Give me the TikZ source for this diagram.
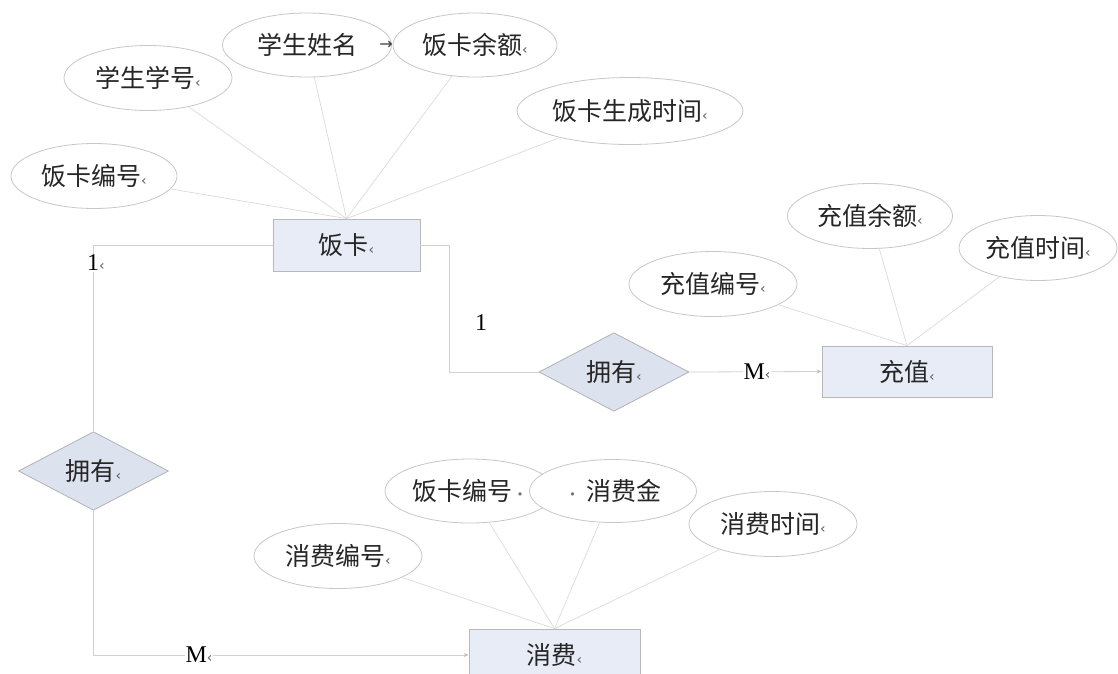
\documentclass[tikz,border=0pt]{standalone}
\usepackage{fontspec}
\setmainfont{Liberation Serif}
\newfontfamily\cjk{Noto Sans CJK SC}
\newfontfamily\dejavu{DejaVu Sans}
\usetikzlibrary{shapes.geometric,arrows.meta}
\newcommand\pmk{{\dejavu\fontsize{14}{14}\selectfont\color{black!65}‹}}
\newcommand\dotmk{{\fontsize{16}{16}\selectfont\color{black!55}·}}
\definecolor{entfill}{HTML}{E8ECF6}
\definecolor{relfill}{HTML}{DDE2EF}
\tikzset{
  attr/.style={ellipse, draw=black!22, line width=0.8pt, fill=white,
    minimum width=168pt, minimum height=65pt, inner sep=0pt,
    font=\cjk\fontsize{25}{25}\selectfont, text=black!85},
  ent/.style={rectangle, draw=black!28, fill=entfill, line width=0.8pt,
    inner sep=0pt, font=\cjk\fontsize{25}{25}\selectfont, text=black!85},
  rel/.style={diamond, draw=black!30, fill=relfill, line width=0.8pt,
    minimum width=150pt, minimum height=76pt, inner sep=0pt,
    font=\cjk\fontsize{25}{25}\selectfont, text=black!85},
  aline/.style={draw=black!14, line width=0.7pt},
  cline/.style={draw=black!18, line width=0.8pt},
  card/.style={font=\fontsize{24}{24}\selectfont, text=black, fill=white, inner sep=1pt},
  tipa/.style={-{Stealth[length=5pt,width=4pt,color=black!25]}}
}
\begin{document}
\begin{tikzpicture}[x=1pt,y=-1pt]
\useasboundingbox (0,0) rectangle (1118,673);
\fill[white] (0,0) rectangle (1118,673);

% entities
\node[ent, minimum width=147pt, minimum height=52pt] (fk) at (346.5,245) {饭卡\pmk};
\node[ent, minimum width=170pt, minimum height=51pt] (cz) at (907,371.5) {充值\pmk};
\node[ent, minimum width=171pt, minimum height=52pt] (xf) at (554.5,655) {消费\pmk};

% relationships
\node[rel] (r1) at (614,372) {拥有\pmk};
\node[rel] (r2) at (93.5,471) {拥有\pmk};

% attributes of 饭卡
\node[attr] (a1) at (148,78) {学生学号\pmk};
\node[attr, minimum width=169pt, minimum height=64pt] (a2) at (307,45) {学生姓名};
\node[attr, minimum width=164pt, minimum height=64pt] (a3) at (475,45) {饭卡余额\pmk};
\node[attr, minimum width=226pt, minimum height=67pt] (a4) at (630,111) {饭卡生成时间\pmk};
\node[attr, minimum width=166pt] (a5) at (94,176) {饭卡编号\pmk};
\node[inner sep=0pt, font=\dejavu\fontsize{16}{16}\selectfont, text=black!75] (arw) at (386,45) {→};

% attributes of 充值
\node[attr] (b1) at (713,284) {充值编号\pmk};
\node[attr, minimum width=165pt] (b2) at (870,216) {充值余额\pmk};
\node[attr, minimum width=158pt] (b3) at (1038,248) {充值时间\pmk};

% attributes of 消费
\node[attr] (c1) at (338,556) {消费编号\pmk};
\node[attr, minimum width=170pt, minimum height=64pt] (c2) at (470,491) {饭卡编号\dotmk};
\node[attr, minimum width=167pt, minimum height=63pt] (c3) at (613,491) {\dotmk\ 消费金};
\node[attr] (c4) at (773,524) {消费时间\pmk};

% attribute lines
\foreach \a in {a1,a2,a3,a4,a5} \draw[aline] (\a) -- (fk.north);
\foreach \a in {b1,b2,b3} \draw[aline] (\a) -- (cz.north);
\foreach \a in {c1,c2,c3,c4} \draw[aline] (\a) -- (xf.north);

% relationship connectors
\draw[cline] (fk.west) -| (r2.north);
\draw[cline] (fk.east) -- ++(29,0) coordinate (k1) |- (r1.west);
\draw[cline, tipa] (r1.east) -- (cz.west);
\draw[cline, tipa] (r2.south) |- (xf.west);

% cardinalities
\node[card] (n1) at (96,263) {1\pmk};
\node[card, fill=none] (n2) at (481,323) {1};
\node[card] (m1) at (757,372) {M\pmk};
\node[card] (m2) at (199,655) {M\pmk};
\end{tikzpicture}
\end{document}
